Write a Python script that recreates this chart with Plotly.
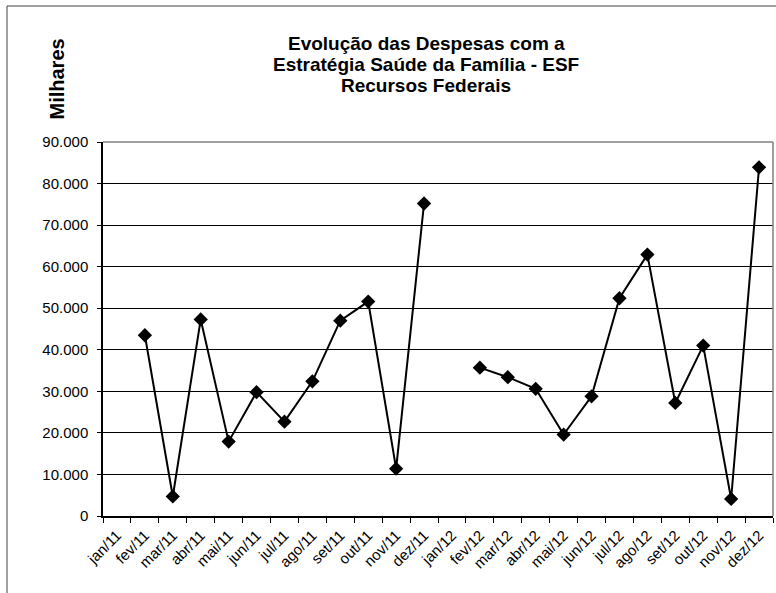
import plotly.graph_objects as go

months = ["jan/11", "fev/11", "mar/11", "abr/11", "mai/11", "jun/11", "jul/11", "ago/11",
          "set/11", "out/11", "nov/11", "dez/11", "jan/12", "fev/12", "mar/12", "abr/12",
          "mai/12", "jun/12", "jul/12", "ago/12", "set/12", "out/12", "nov/12", "dez/12"]
despesas = [None, 43500, 4700, 47300, 17900, 29800, 22700, 32400, 47000, 51600, 11400, 75200,
            None, 35700, 33400, 30600, 19600, 28800, 52400, 62900, 27200, 41000, 4100, 83900]
y_ticks = [0, 10000, 20000, 30000, 40000, 50000, 60000, 70000, 80000, 90000]
title_lines = ["Evolução das Despesas com a", "Estratégia Saúde da Família - ESF", "Recursos Federais"]
y_title = "Milhares"

FONT = "Arial, 'Liberation Sans', sans-serif"
W, H = 776, 593
L, R, T, B = 103, 3, 142, 77
PW, PH = W - L - R, H - T - B

def px_x(x):
    return (x - L) / PW

def px_y(y):
    return (H - B - y) / PH

fig = go.Figure()
fig.add_trace(go.Scatter(
    x=months, y=despesas, mode="lines+markers",
    line=dict(color="black", width=2),
    marker=dict(symbol="diamond", size=11, color="black"),
    connectgaps=False, showlegend=False, hoverinfo="x+y",
))

annotations = []
centers = [43.5, 64.5, 85.5]
for txt, cy in zip(title_lines, centers):
    annotations.append(dict(text="<b>%s</b>" % txt, x=px_x(426), y=px_y(cy), xref="paper", yref="paper",
                            xanchor="center", yanchor="middle", showarrow=False,
                            font=dict(family=FONT, size=19, color="black")))
annotations.append(dict(text="<b>%s</b>" % y_title, x=px_x(56), y=px_y(79.5), xref="paper", yref="paper",
                        xanchor="center", yanchor="middle", showarrow=False, textangle=-90,
                        font=dict(family=FONT, size=20, color="black")))

shapes = [
    # chart area border (left + top)
    dict(type="line", xref="paper", yref="paper", x0=px_x(7), x1=px_x(7), y0=px_y(6), y1=px_y(600),
         line=dict(color="#404040", width=1)),
    dict(type="line", xref="paper", yref="paper", x0=px_x(7), x1=px_x(790), y0=px_y(6), y1=px_y(6),
         line=dict(color="#404040", width=1)),
    # plot area border (top + right)
    dict(type="line", xref="paper", yref="paper", x0=0, x1=1, y0=1, y1=1,
         line=dict(color="#808080", width=1.5), layer="above"),
    dict(type="line", xref="paper", yref="paper", x0=1, x1=1, y0=0, y1=1,
         line=dict(color="#808080", width=1.5), layer="above"),
]

fig.update_layout(
    width=W, height=H,
    margin=dict(l=L, r=R, t=T, b=B, pad=0),
    paper_bgcolor="white", plot_bgcolor="white",
    separators=",.",
    font=dict(family=FONT, size=15, color="black"),
    annotations=annotations, shapes=shapes,
    xaxis=dict(type="category", categoryorder="array", categoryarray=months,
               range=[-0.5, len(months) - 0.5], tickson="boundaries",
               ticks="outside", ticklen=5, tickcolor="black", tickwidth=1,
               tickangle=-45, showline=True, linecolor="black", linewidth=1.5,
               showgrid=False, zeroline=False, ticklabelstandoff=3,
               tickfont=dict(family=FONT, size=15, color="black")),
    yaxis=dict(range=[0, 90000], tickvals=y_ticks, tickformat=",d",
               ticks="outside", ticklen=4, tickcolor="black", tickwidth=1,
               showline=True, linecolor="black", linewidth=1.5,
               showgrid=True, gridcolor="black", gridwidth=1, zeroline=False,
               ticklabelstandoff=6, tickfont=dict(family=FONT, size=15, color="black")),
)

fig.write_html("out.html", config={"displayModeBar": False},
               post_script="document.body.style.margin='0px';document.body.style.overflow='hidden';")
